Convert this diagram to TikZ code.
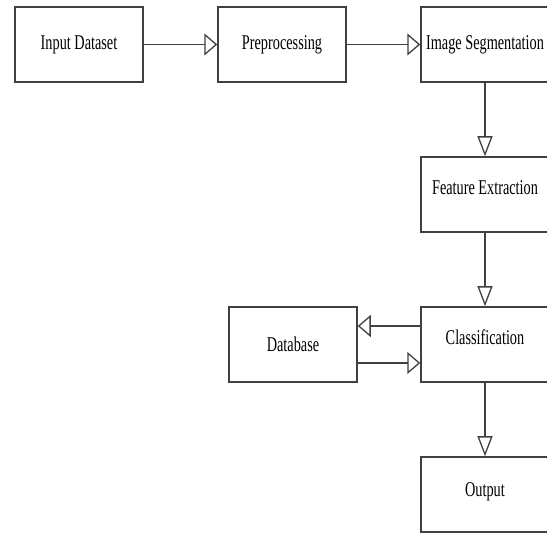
\documentclass[tikz,border=0pt]{standalone}
\usepackage{fontspec}
\newfontfamily\boxfont[FakeStretch=0.68]{Liberation Serif}
\usetikzlibrary{arrows.meta}

\begin{document}
\begin{tikzpicture}[x=1pt,y=-1pt,line cap=butt,line join=miter,
  blk/.style={draw=black!75,line width=1.5pt,rectangle,minimum width=128pt,minimum height=75pt,inner sep=0pt,font=\boxfont\fontsize{21}{24}\selectfont},
  uptext/.style={text height=14pt,text depth=14pt},
  harr/.style={draw=black!75,line width=1.5pt,-{Triangle[open,length=13pt,width=22pt,line width=1.3pt]}},
  varr/.style={draw=black!75,line width=1.5pt,-{Triangle[open,length=20pt,width=15pt,line width=1.3pt]}}]
\clip (0,0) rectangle (547,534);
\node[blk] (input) at (79,44.5) {Input Dataset};
\node[blk] (prep) at (282,44.5) {Preprocessing};
\node[blk] (seg) at (485,44.5) {Image Segmentation};
\node[blk,uptext] (feat) at (485,194.5) {Feature Extraction};
\node[blk,uptext] (cls) at (485,344.5) {Classification};
\node[blk] (db) at (293,344.5) {Database};
\node[blk,text height=14pt,text depth=10pt] (out) at (485,494.5) {Output};
\draw[harr] (input) -- (prep);
\draw[harr] (prep) -- (seg);
\draw[varr] (seg) -- (feat);
\draw[varr] (feat) -- (cls);
\draw[varr] (cls) -- (out);
\draw[harr] ([yshift=18.5pt]cls.west) -- ([yshift=18.5pt]db.east);
\draw[harr] ([yshift=-18.5pt]db.east) -- ([yshift=-18.5pt]cls.west);
\end{tikzpicture}
\end{document}
